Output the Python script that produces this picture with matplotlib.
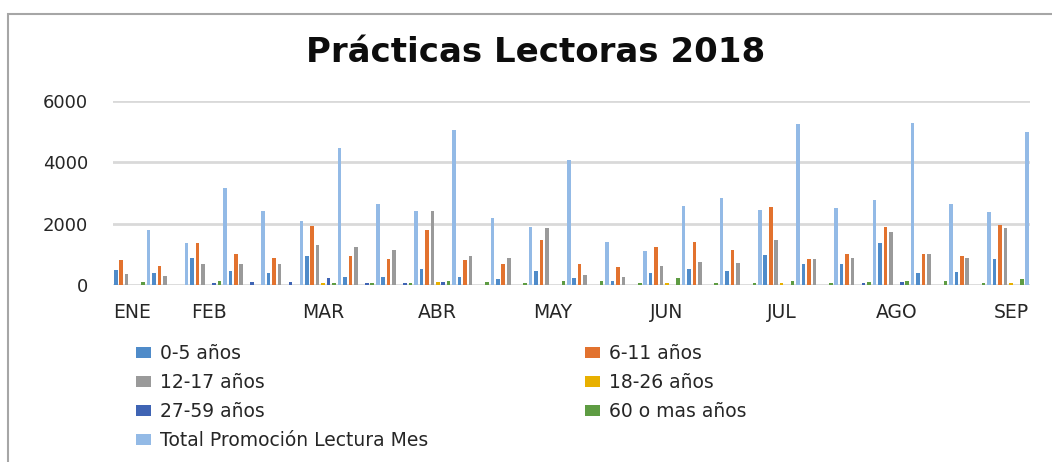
import matplotlib.pyplot as plt
import numpy as np
from matplotlib.patches import Rectangle


MESES = ["ENE", "", "FEB", "", "", "MAR", "", "", "ABR", "", "", "MAY",
         "", "", "JUN", "", "", "JUL", "", "", "AGO", "", "", "SEP"]

edad_0_5 = [490, 390, 880, 470, 380, 930, 250, 250, 520, 250, 200, 470,
            220, 140, 390, 520, 460, 990, 680, 680, 1380, 390, 410, 850]
edad_6_11 = [800, 630, 1380, 1010, 880, 1910, 950, 850, 1800, 800, 690, 1470,
             690, 580, 1250, 1400, 1140, 2540, 850, 1010, 1890, 1010, 960, 1970]
edad_12_17 = [370, 280, 670, 690, 670, 1320, 1250, 1140, 2410, 960, 880, 1860,
              330, 270, 610, 740, 720, 1470, 850, 870, 1730, 1010, 870, 1860]
edad_18_26 = [0, 0, 0, 0, 0, 65, 0, 0, 85, 0, 0, 0,
              0, 0, 55, 0, 0, 65, 0, 0, 0, 0, 0, 65]
edad_27_59 = [0, 0, 65, 85, 85, 220, 55, 50, 85, 0, 0, 0,
              0, 0, 0, 0, 0, 0, 0, 65, 85, 0, 0, 0]
edad_60_mas = [85, 0, 140, 0, 0, 55, 75, 65, 140, 85, 65, 140,
               120, 55, 220, 55, 65, 130, 55, 85, 130, 130, 75, 185]
total_mes = [1780, 1380, 3160, 2400, 2080, 4480, 2650, 2410, 5070, 2180, 1890, 4070,
             1410, 1120, 2570, 2830, 2430, 5250, 2510, 2770, 5280, 2640, 2370, 5000]

SERIES = [
    ("0-5 años", edad_0_5, "#4f8bc9"),
    ("6-11 años", edad_6_11, "#e2722e"),
    ("12-17 años", edad_12_17, "#9a9a9a"),
    ("18-26 años", edad_18_26, "#e8b000"),
    ("27-59 años", edad_27_59, "#3f64b4"),
    ("60 o mas años", edad_60_mas, "#5e9c43"),
    ("Total Promoción Lectura Mes", total_mes, "#93bae6"),
]

W, H = 1052, 462
fig = plt.figure(figsize=(W / 100, H / 100), dpi=100)
ax = fig.add_axes([113 / W, 1 - 285 / H, (1030 - 113) / W, (285 - 101) / H])

x = np.arange(len(MESES))
slot = 1 / len(SERIES)
bars = []
for i, (name, vals, color) in enumerate(SERIES):
    b = ax.bar(x - 0.5 + slot * (i + 0.5), vals, width=slot * 0.66,
               color=color, label=name, zorder=3)
    bars.append(b)

ax.set_xlim(-0.5, len(MESES) - 0.5)
ax.set_ylim(0, 6000)
ax.set_yticks([0, 2000, 4000, 6000])
ax.set_xticks(x)
ax.set_xticklabels(MESES)
ax.tick_params(axis="y", length=0, pad=18, labelsize=13, colors="#262626")
ax.tick_params(axis="x", length=0, pad=13, labelsize=13.5, colors="#262626")
ax.grid(axis="y", color="#d9d9d9", linewidth=2, zorder=0)
for s in ax.spines.values():
    s.set_visible(False)

fig.text(536 / W, 1 - 53 / H, "Prácticas Lectoras 2018", ha="center", va="center",
         fontsize=24.5, fontweight="bold", color="#0d0d0d")

# Excel lista la leyenda por filas: dos leyendas, una por columna
col1 = [bars[0], bars[2], bars[4], bars[6]]
col2 = [bars[1], bars[3], bars[5]]
for handles, x0 in [(col1, 127), (col2, 576)]:
    fig.legend(handles, [h.get_label() for h in handles],
               loc="upper left", bbox_to_anchor=(x0 / W, 1 - 335 / H),
               frameon=False, fontsize=13.5, handlelength=0.8, handleheight=0.55,
               handletextpad=0.45, labelspacing=0.53, borderpad=0,
               labelcolor="#262626")

fig.patches.append(Rectangle((8 / W, -0.1), 1.2, 1 - 14 / H + 0.1,
                             transform=fig.transFigure, fill=False,
                             edgecolor="#a6a6a6", linewidth=1.5))

fig.savefig("out.png", dpi=100)
